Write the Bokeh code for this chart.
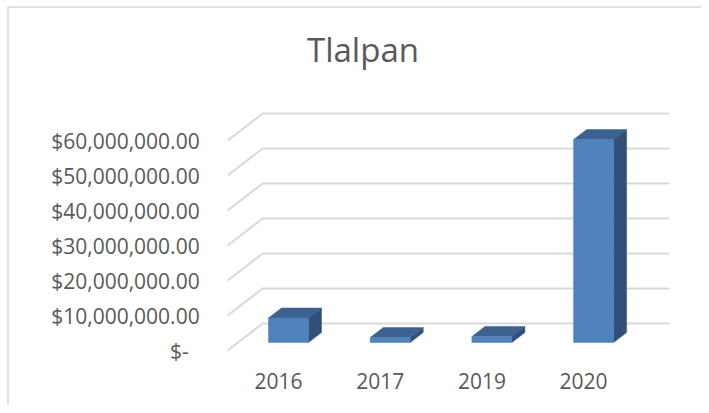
from bokeh.plotting import figure
from bokeh.models import Range1d
from bokeh.core.properties import value
from bokeh.embed import file_html
from bokeh.resources import INLINE

# ---- data ----
years = ["2016", "2017", "2019", "2020"]
amounts = [7_000_000, 1_400_000, 1_700_000, 58_000_000]
tick_values = [0, 10_000_000, 20_000_000, 30_000_000, 40_000_000, 50_000_000, 60_000_000]
tick_labels = ["$-", "$10,000,000.00", "$20,000,000.00", "$30,000,000.00",
               "$40,000,000.00", "$50,000,000.00", "$60,000,000.00"]
title_text = "Tlalpan"

# ---- geometry / style ----
W, H = 701, 405
PXX = 101.7                 # pixels per category step
DPP = 10_000_000 / 35.0     # dollars per pixel
ORIGIN_X = 278.0            # canvas px of category 0 (front plane)
ORIGIN_Y = 350.0            # canvas px (from top) of value 0 (front plane)

def dx(px):
    return px / PXX

def dy(px):
    return px * DPP

x_start = -ORIGIN_X / PXX
x_end = (W - ORIGIN_X) / PXX
y_start = -(H - ORIGIN_Y) * DPP
y_end = ORIGIN_Y * DPP

FONT = value("Open Sans")
TXT = "#595959"
GRID = "#D9D9D9"
FRONT = "#4F81BD"
TOP = "#3B6291"
SIDE = "#30507A"

p = figure(width=W, height=H, x_range=Range1d(x_start, x_end), y_range=Range1d(y_start, y_end),
           x_axis_type=None, y_axis_type=None, toolbar_location=None, output_backend="svg",
           min_border=0, background_fill_color="white", border_fill_color="white")
p.outline_line_color = None
p.grid.visible = False

# chart border (left + top)
bx = x_start + dx(7.5)
by = y_end - dy(6.5)
p.line(x=[bx, bx, x_end], y=[y_start, by, by], line_color=GRID, line_width=1.5)

# 3D gridlines: front-left diagonal + back wall horizontal
n = len(years)
gx, gy = [], []
for t in tick_values:
    gx.append([-0.5, -0.5 + dx(35), (n - 0.5) + dx(35)])
    gy.append([t, t + dy(27), t + dy(27)])
p.multi_line(xs=gx, ys=gy, line_color=GRID, line_width=2)

# 3D bars
half = dx(20)
depth_x, depth_y = dx(13), dy(10)
base = dy(8)
top_xs, top_ys, side_xs, side_ys = [], [], [], []
lefts, rights, bottoms, tops = [], [], [], []
for i, v in enumerate(amounts):
    xc = i + dx(10)
    xl, xr = xc - half, xc + half
    b, t = base, base + v
    lefts.append(xl); rights.append(xr); bottoms.append(b); tops.append(t)
    top_xs.append([xl, xr, xr + depth_x, xl + depth_x])
    top_ys.append([t, t, t + depth_y, t + depth_y])
    side_xs.append([xr, xr + depth_x, xr + depth_x, xr])
    side_ys.append([b, b + depth_y, t + depth_y, t])
p.patches(xs=side_xs, ys=side_ys, fill_color=SIDE, line_color=SIDE, line_width=0.5)
p.patches(xs=top_xs, ys=top_ys, fill_color=TOP, line_color=TOP, line_width=0.5)
p.quad(left=lefts, right=rights, bottom=bottoms, top=tops, fill_color=FRONT, line_color=FRONT, line_width=0.5)

# y tick labels (accounting format: the dash label is padded on the right)
label_x = [-0.5 - dx(28) - (dx(11) if lab.endswith("-") else 0) for lab in tick_labels]
p.text(x=label_x, y=tick_values, text=tick_labels,
       text_align="right", text_baseline="middle", text_font=FONT,
       text_font_size="21px", text_color=TXT)

# category labels
p.text(x=list(range(n)), y=[-dy(30)] * n, text=years,
       text_align="center", text_baseline="middle", text_font=FONT,
       text_font_size="21px", text_color=TXT)

# title
p.text(x=[dx(362.5 - ORIGIN_X)], y=[dy(ORIGIN_Y - 49)], text=[title_text],
       text_align="center", text_baseline="middle", text_font=FONT,
       text_font_size="33px", text_color=TXT)

open("out.html", "w").write(file_html(p, INLINE))
